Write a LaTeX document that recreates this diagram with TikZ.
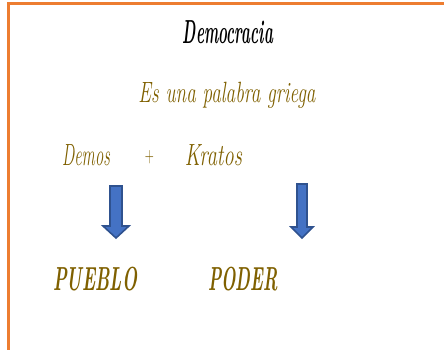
\documentclass[tikz,border=0pt]{standalone}
\usepackage{graphicx}
\definecolor{frameorange}{HTML}{ED7D31}
\definecolor{txtbrown}{HTML}{7F6000}
\definecolor{arrfill}{HTML}{4472C4}
\definecolor{arrdraw}{HTML}{2F528F}
\newcommand{\fitw}[2]{\resizebox{#1}{\height}{#2}}
\tikzset{
  hand/.style={inner sep=0pt, anchor=base, text=txtbrown, font=\itshape},
  title/.style={inner sep=0pt, anchor=base, text=black, font=\bfseries\itshape},
  bigword/.style={inner sep=0pt, anchor=base, text=txtbrown, font=\bfseries\itshape},
  blockarrow/.style={fill=arrfill, draw=arrdraw, line width=1.2pt, line join=miter},
  frame/.style={draw=frameorange, line width=2.3pt}
}
\begin{document}
\begin{tikzpicture}[x=0.75pt,y=-0.75pt]
\useasboundingbox (0,0) rectangle (444,350);
\draw[frame] (444,3.4) -- (8.5,3.4) -- (8.5,351);
\node[title, font=\fontsize{25}{29}\selectfont\bfseries\itshape] (t) at (228,43) {\fitw{67.5pt}{Democracia}};
\node[hand, font=\fontsize{22}{26}\selectfont\itshape] (s) at (227,102) {\fitw{132.75pt}{Es una palabra griega}};
\node[hand, font=\fontsize{23}{27}\selectfont\itshape] (demos) at (86,165) {\fitw{36pt}{Demos}};
\node[hand, font=\fontsize{16}{20}\selectfont] (plus) at (149.5,162) {\fitw{6.75pt}{+}};
\node[hand, font=\fontsize{23}{27}\selectfont\itshape] (kratos) at (213.5,165) {\fitw{42.75pt}{Kratos}};
\node[bigword, font=\fontsize{25}{29}\selectfont\bfseries\itshape] (pueblo) at (95,290) {\fitw{63pt}{PUEBLO}};
\node[bigword, font=\fontsize{25}{29}\selectfont\bfseries\itshape] (poder) at (243,290) {\fitw{52.5pt}{PODER}};
\draw[blockarrow] (110,186) -- (122,186) -- (122,226) -- (129,226) -- (116,238) -- (103,226) -- (110,226) -- cycle;
\draw[blockarrow] (297,184) -- (307,184) -- (307,227) -- (313,227) -- (302,238) -- (291,227) -- (297,227) -- cycle;
\end{tikzpicture}
\end{document}
